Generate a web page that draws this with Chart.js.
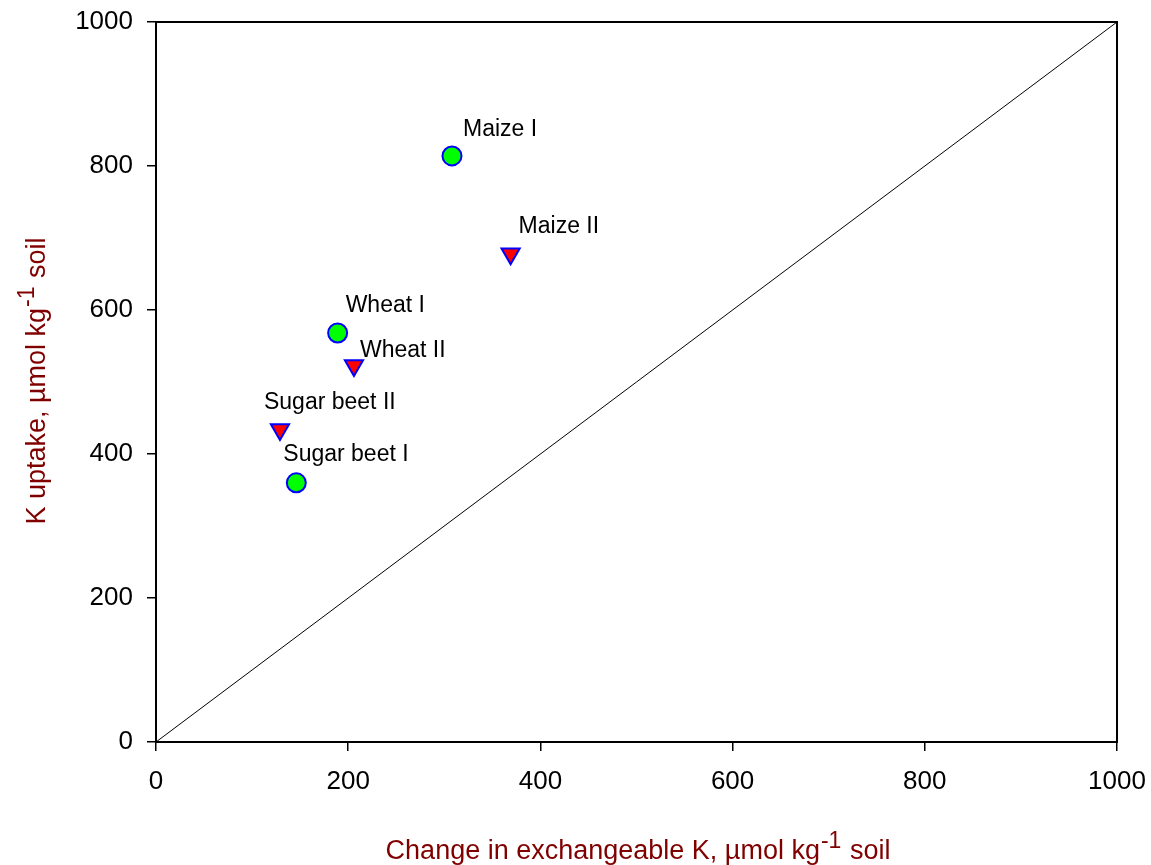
<!DOCTYPE html>
<html>
<head>
<meta charset="utf-8">
<script src="https://cdn.jsdelivr.net/npm/chart.js@4/dist/chart.umd.min.js"></script>
<style>
  html, body { margin: 0; padding: 0; background: #fff; }
  #wrap { width: 1151px; height: 865px; }
</style>
</head>
<body>
<div id="wrap"><canvas id="k-chart" width="1151" height="865"></canvas></div>
<script>
// crop names and values, µmol/kg soil
const cropsI = ['Maize I', 'Wheat I', 'Sugar beet I'];
const exchangeI = [308, 189, 146];
const uptakeI = [814, 568, 360];

const cropsII = ['Maize II', 'Wheat II', 'Sugar beet II'];
const exchangeII = [369, 206, 129];
const uptakeII = [678, 523, 434];

const axisTicks = [0, 200, 400, 600, 800, 1000];
const oneToOne = [0, 1000];

// label nudges in px (dx, dy from the marker centre)
const labelNudgeI = [[11, -20], [8, -21], [-13, -22]];
const labelNudgeII = [[8, -21], [6, -8], [-16, -21]];

const FONT = '"Liberation Sans", Arial, sans-serif';
const TITLE_RED = '#800000';

function toPoints(xs, ys) {
    return xs.map((x, i) => ({ x: x, y: ys[i] }));
}

// text with a superscript part in the middle
function drawSupText(ctx, before, sup, after, x, y, size) {
    const supSize = Math.round(size * 0.84);
    ctx.font = size + 'px ' + FONT;
    const w1 = ctx.measureText(before).width;
    const w3 = ctx.measureText(after).width;
    ctx.font = supSize + 'px ' + FONT;
    const w2 = ctx.measureText(sup).width;
    const left = x - (w1 + w2 + w3) / 2;
    ctx.textAlign = 'left';
    ctx.textBaseline = 'alphabetic';
    ctx.font = size + 'px ' + FONT;
    ctx.fillText(before, left, y);
    ctx.font = supSize + 'px ' + FONT;
    ctx.fillText(sup, left + w1 + 1, y - 11);
    ctx.font = size + 'px ' + FONT;
    ctx.fillText(after, left + w1 + w2 + 2, y);
}

const extras = {
    id: 'extras',
    afterDatasetsDraw(chart) {
        const ctx = chart.ctx;
        const a = chart.chartArea;
        const xs = chart.scales.x;
        const ys = chart.scales.y;

        // box around the plot
        ctx.save();
        ctx.strokeStyle = '#000';
        ctx.lineWidth = 2;
        ctx.strokeRect(a.left, a.top, a.right - a.left, a.bottom - a.top);

        // point labels
        ctx.fillStyle = '#000';
        ctx.font = '23px ' + FONT;
        ctx.textAlign = 'left';
        ctx.textBaseline = 'alphabetic';
        cropsI.forEach((name, i) => {
            ctx.fillText(name, xs.getPixelForValue(exchangeI[i]) + labelNudgeI[i][0],
                ys.getPixelForValue(uptakeI[i]) + labelNudgeI[i][1]);
        });
        cropsII.forEach((name, i) => {
            ctx.fillText(name, xs.getPixelForValue(exchangeII[i]) + labelNudgeII[i][0],
                ys.getPixelForValue(uptakeII[i]) + labelNudgeII[i][1]);
        });

        // axis titles
        ctx.fillStyle = TITLE_RED;
        drawSupText(ctx, 'Change in exchangeable K, µmol kg', '-1', ' soil', 637, 859, 27);
        ctx.translate(45, 382);
        ctx.rotate(-Math.PI / 2);
        drawSupText(ctx, 'K uptake, µmol kg', '-1', ' soil', 0, 0, 27);
        ctx.restore();
    }
};

const axisCommon = {
    type: 'linear',
    min: 0,
    max: 1000,
    afterBuildTicks: (scale) => { scale.ticks = axisTicks.map(v => ({ value: v })); },
    grid: {
        display: true,
        drawOnChartArea: false,
        drawTicks: true,
        tickLength: 9,
        color: '#000',
        lineWidth: 1.5
    },
    border: { display: true, color: '#000', width: 2 },
    title: { display: false }
};

new Chart(document.getElementById('k-chart'), {
    type: 'scatter',
    data: {
        datasets: [
            {
                label: 'Series I',
                data: toPoints(exchangeI, uptakeI),
                pointStyle: 'circle',
                pointRadius: 9.5,
                pointBackgroundColor: '#00ff00',
                pointBorderColor: '#0000ff',
                pointBorderWidth: 2,
                order: 1
            },
            {
                label: 'Series II',
                data: toPoints(exchangeII, uptakeII),
                pointStyle: 'triangle',
                rotation: 180,
                pointRadius: 10.5,
                pointBackgroundColor: '#ff0000',
                pointBorderColor: '#0000ff',
                pointBorderWidth: 2,
                order: 1
            },
            {
                type: 'line',
                label: '1:1',
                data: toPoints(oneToOne, oneToOne),
                borderColor: '#000',
                borderWidth: 1,
                pointRadius: 0,
                fill: false,
                order: 2
            }
        ]
    },
    options: {
        responsive: false,
        animation: false,
        devicePixelRatio: 1,
        layout: { padding: { left: 0, top: 22, right: 34, bottom: 0 } },
        plugins: {
            legend: { display: false },
            tooltip: { enabled: false }
        },
        scales: {
            x: Object.assign({}, axisCommon, {
                position: 'bottom',
                afterFit: (scale) => {
                    scale.height = 123;
                    scale.paddingLeft = 0;
                    scale.paddingRight = 0;
                },
                ticks: {
                    color: '#000',
                    font: { family: FONT, size: 26 },
                    padding: 15,
                    maxRotation: 0,
                    callback: (v) => String(v)
                }
            }),
            y: Object.assign({}, axisCommon, {
                position: 'left',
                afterFit: (scale) => {
                    scale.width = 156;
                    scale.paddingTop = 0;
                    scale.paddingBottom = 0;
                },
                ticks: {
                    color: '#000',
                    font: { family: FONT, size: 26 },
                    padding: 14,
                    callback: (v) => String(v)
                }
            })
        }
    },
    plugins: [extras]
});
</script>
</body>
</html>
